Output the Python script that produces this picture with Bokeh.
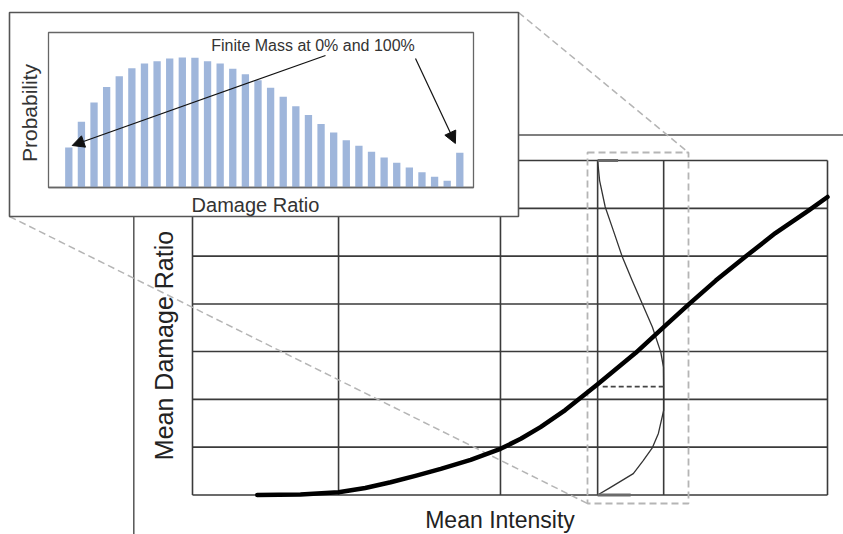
import math
from bokeh.plotting import figure
from bokeh.models import Range1d, Arrow, NormalHead, Label
from bokeh.embed import file_html
from bokeh.resources import INLINE

# ---------------- data ----------------
# Inset: probability of each damage-ratio bin (relative heights, 0..10 scale)
bar_index = list(range(32))
bar_prob = [2.58, 4.24, 5.48, 6.49, 7.18, 7.70, 8.00, 8.15, 8.32, 8.39, 8.37, 8.15,
            8.00, 7.66, 7.31, 6.92, 6.43, 5.85, 5.25, 4.67, 4.09, 3.55, 3.05, 2.69,
            2.30, 1.94, 1.59, 1.29, 0.99, 0.69, 0.43, 2.24]

# Main: mean damage ratio vs mean intensity
intensity = [1.02, 1.70, 2.30, 2.72, 3.12, 3.51, 3.91, 4.38, 4.85, 5.17, 5.48, 5.87,
             6.38, 6.98, 7.42, 7.81, 8.24, 8.71, 9.18, 9.70, 10.0]
mdr = [0.0, 0.0015, 0.008, 0.021, 0.038, 0.057, 0.078, 0.105, 0.138, 0.168, 0.203, 0.254,
       0.331, 0.425, 0.502, 0.569, 0.641, 0.713, 0.783, 0.850, 0.891]

grid_x = [0.0, 2.30, 4.85, 7.42, 10.0]
grid_y = [0.0, 0.143, 0.286, 0.429, 0.571, 0.714, 0.857, 1.0]

# Conditional damage distribution at one intensity
pdf_intensity = 6.38
pdf_dr = [1.0, 0.94, 0.861, 0.791, 0.714, 0.641, 0.572, 0.502, 0.427, 0.382,
          0.324, 0.253, 0.184, 0.142, 0.103, 0.064, 0.022, 0.0]
pdf_dens = [0.0, 0.03, 0.115, 0.237, 0.37, 0.523, 0.676, 0.829, 0.956, 0.997,
            1.0, 1.0, 0.92, 0.83, 0.69, 0.54, 0.19, 0.0]
mass_0 = 0.50
mass_100 = 0.31
mean_dr = 0.324

# ---------------- layout helpers (pixel anchors of the page) ----------------
W, H = 843, 534
OX, OY = 0, 0
PDF_W = 1.04  # horizontal size of the density peak in intensity units


def mx(px):
    return (px - 192) / 63.5


def my(py):
    return (494.5 - py) / 334.5


def ix(px):
    return (px - 68.3) / 12.613


def iy(py):
    return (187 - py) / 15.5


p = figure(width=W, height=H,
           x_range=Range1d(mx(OX), mx(OX + W)),
           y_range=Range1d(my(OY + H), my(OY)),
           output_backend="svg", toolbar_location=None,
           x_axis_location=None, y_axis_location=None,
           min_border=0, outline_line_color=None)
p.grid.visible = False
p.extra_x_ranges = {"ix": Range1d(ix(OX), ix(OX + W))}
p.extra_y_ranges = {"iy": Range1d(iy(OY + H), iy(OY))}

GRID = "#3a3a3a"
FONT = "Liberation Sans"

# outer frame lines of the main chart
p.segment(x0=mx(133.3), y0=my(540), x1=mx(133.3), y1=my(134.5), line_color="#555", line_width=1.5)
p.segment(x0=mx(133.3), y0=my(134.5), x1=mx(850), y1=my(134.5), line_color="#555", line_width=1.5)

# grid
for gy in grid_y:
    p.segment(x0=grid_x[0], y0=gy, x1=grid_x[-1], y1=gy, line_color=GRID, line_width=1.6)
for gx in grid_x + [pdf_intensity]:
    p.segment(x0=gx, y0=grid_y[0], x1=gx, y1=grid_y[-1], line_color=GRID, line_width=1.6)

# dashed zoom rectangle and connector lines
rx0, rx1, ry0, ry1 = mx(587), mx(688), my(503), my(152)
p.quad(left=rx0, right=rx1, bottom=ry0, top=ry1, fill_color=None,
       line_color="#b5b5b5", line_width=1.8, line_dash="7 4")
p.segment(x0=mx(518), y0=my(12), x1=rx1, y1=ry1, line_color="#b5b5b5", line_width=1.5, line_dash="7 4")
p.segment(x0=mx(9), y0=my(216), x1=rx0, y1=ry0, line_color="#b5b5b5", line_width=1.5, line_dash="7 4")

# conditional distribution
pdf_x = [pdf_intensity + d * PDF_W for d in pdf_dens]
p.line(pdf_x, pdf_dr, line_color="#333", line_width=1.3, line_join="round")
p.segment(x0=pdf_intensity, y0=0.0, x1=pdf_intensity + mass_0 * PDF_W, y1=0.0,
          line_color="#6a6a6a", line_width=3)
p.segment(x0=pdf_intensity, y0=1.0, x1=pdf_intensity + mass_100 * PDF_W, y1=1.0,
          line_color="#6a6a6a", line_width=3)
p.segment(x0=pdf_intensity + 0.08, y0=mean_dr, x1=pdf_intensity + PDF_W, y1=mean_dr,
          line_color="#444", line_width=1.6, line_dash="5 3")

# main vulnerability curve
p.line(intensity, mdr, line_color="black", line_width=4.5, line_cap="round", line_join="round")

# main labels
p.add_layout(Label(x=mx(163), y=my(345), text="Mean Damage Ratio", angle=math.pi / 2,
                   text_align="center", text_baseline="middle", text_font=FONT,
                   text_font_size="25px", text_color="#222"))
p.add_layout(Label(x=mx(499.5), y=my(519), text="Mean Intensity",
                   text_align="center", text_baseline="middle", text_font=FONT,
                   text_font_size="23px", text_color="#222"))

# ---------------- inset ----------------
p.quad(left=ix(9), right=ix(518), bottom=iy(216), top=iy(12), fill_color="white",
       line_color="#555", line_width=1.6, x_range_name="ix", y_range_name="iy")
p.quad(left=ix(48), right=ix(473), bottom=0, top=iy(32), fill_color=None,
       line_color="#666", line_width=1.3, x_range_name="ix", y_range_name="iy")
p.vbar(x=bar_index, top=bar_prob, bottom=0, width=0.58, fill_color="#9fb6db",
       line_color=None, x_range_name="ix", y_range_name="iy")
p.segment(x0=ix(48), y0=0, x1=ix(473), y1=0, line_color="#666", line_width=1.5,
          x_range_name="ix", y_range_name="iy")

p.add_layout(Label(x=ix(312.5), y=iy(45.2), text="Finite Mass at 0% and 100%",
                   text_align="center", text_baseline="middle", text_font=FONT,
                   text_font_size="16px", text_color="#333",
                   x_range_name="ix", y_range_name="iy"))
p.add_layout(Label(x=ix(255), y=iy(204.5), text="Damage Ratio",
                   text_align="center", text_baseline="middle", text_font=FONT,
                   text_font_size="20px", text_color="#333",
                   x_range_name="ix", y_range_name="iy"))
p.add_layout(Label(x=ix(29), y=iy(112.5), text="Probability", angle=math.pi / 2,
                   text_align="center", text_baseline="middle", text_font=FONT,
                   text_font_size="21px", text_color="#333",
                   x_range_name="ix", y_range_name="iy"))

p.add_layout(Arrow(x_start=ix(325), y_start=iy(55),
                   x_end=bar_index[0] + 0.27, y_end=bar_prob[0] + 0.13,
                   end=NormalHead(size=12, fill_color="#111", line_color="#111"),
                   line_color="#111", line_width=1.2,
                   x_range_name="ix", y_range_name="iy"))
p.add_layout(Arrow(x_start=ix(415), y_start=iy(58),
                   x_end=bar_index[-1] - 0.35, y_end=bar_prob[-1] + 0.6,
                   end=NormalHead(size=12, fill_color="#111", line_color="#111"),
                   line_color="#111", line_width=1.2,
                   x_range_name="ix", y_range_name="iy"))

open("out.html", "w").write(file_html(p, INLINE))
